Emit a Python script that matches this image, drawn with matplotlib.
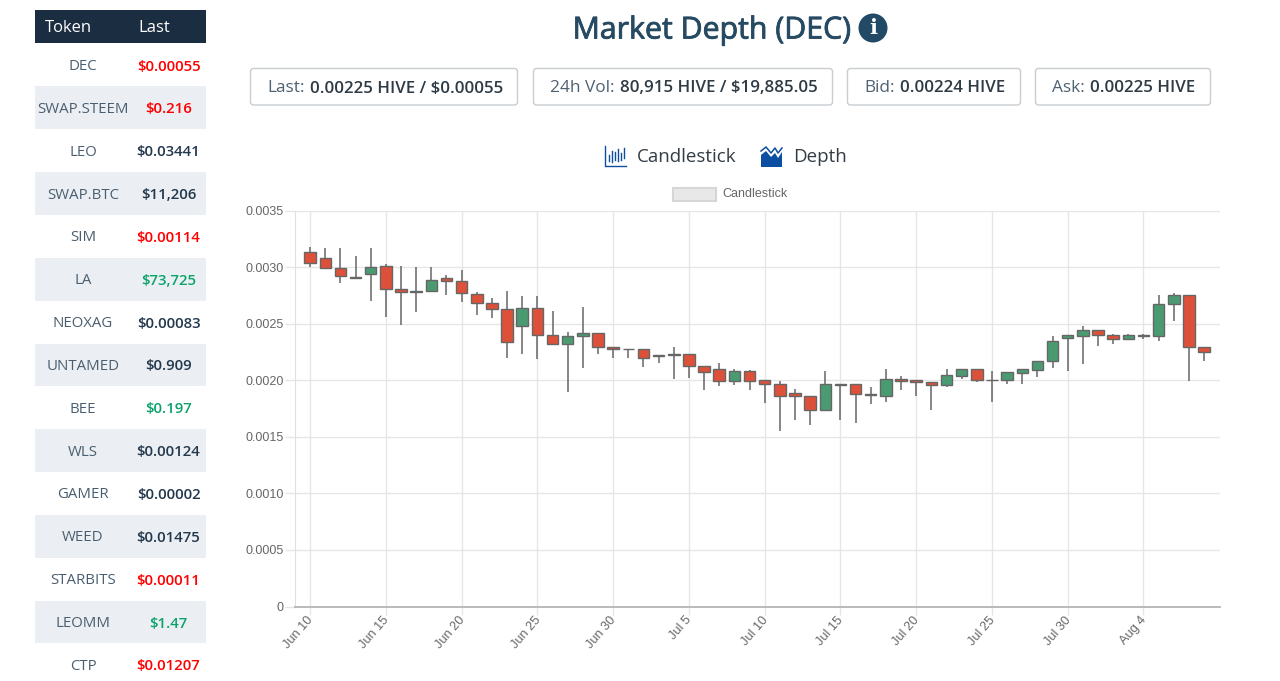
import numpy as np
import matplotlib
matplotlib.use('Agg')
import matplotlib.pyplot as plt
import matplotlib.patheffects as pe
from matplotlib.patches import Rectangle, FancyBboxPatch, Circle, Polygon
from matplotlib.transforms import ScaledTranslation

# candle data, Jun 10 .. Aug 8, one per day
highs = [0.00318, 0.00317, 0.00317, 0.00310, 0.00317, 0.00303, 0.00301, 0.00300, 0.00300, 0.00293,
         0.00297, 0.00278, 0.00273, 0.00279, 0.00274, 0.00274, 0.00261, 0.00243, 0.00265, 0.00242,
         0.00229, 0.00228, 0.00228, 0.00222, 0.00229, 0.00223, 0.00213, 0.00215, 0.00210, 0.00209,
         0.00200, 0.00199, 0.00192, 0.00186, 0.00208, 0.00197, 0.00197, 0.00194, 0.00210, 0.00204,
         0.00200, 0.00198, 0.00210, 0.00210, 0.00210, 0.00208, 0.00207, 0.00210, 0.00217, 0.00239,
         0.00240, 0.00248, 0.00244, 0.00241, 0.00241, 0.00241, 0.00275, 0.00277, 0.00275, 0.00229]
lows = [0.00300, 0.00299, 0.00286, 0.00290, 0.00270, 0.00256, 0.00249, 0.00260, 0.00278, 0.00275,
        0.00269, 0.00258, 0.00255, 0.00220, 0.00223, 0.00219, 0.00232, 0.00190, 0.00211, 0.00223,
        0.00220, 0.00220, 0.00212, 0.00215, 0.00201, 0.00202, 0.00191, 0.00195, 0.00196, 0.00191,
        0.00180, 0.00155, 0.00165, 0.00160, 0.00173, 0.00165, 0.00162, 0.00179, 0.00181, 0.00191,
        0.00186, 0.00174, 0.00194, 0.00201, 0.00198, 0.00181, 0.00197, 0.00197, 0.00203, 0.00211,
        0.00208, 0.00214, 0.00230, 0.00232, 0.00236, 0.00236, 0.00235, 0.00252, 0.00199, 0.00217]
opens = [0.00313, 0.00308, 0.00299, 0.00291, 0.00294, 0.00301, 0.00281, 0.00279, 0.00279, 0.00290,
         0.00288, 0.00276, 0.00268, 0.00263, 0.00248, 0.00264, 0.00240, 0.00232, 0.00239, 0.00242,
         0.00229, 0.00228, 0.00228, 0.00222, 0.00223, 0.00223, 0.00213, 0.00210, 0.00199, 0.00208,
         0.00200, 0.00197, 0.00189, 0.00186, 0.00174, 0.00197, 0.00197, 0.00188, 0.00186, 0.00201,
         0.00200, 0.00198, 0.00196, 0.00204, 0.00210, 0.00200, 0.00200, 0.00206, 0.00209, 0.00217,
         0.00237, 0.00239, 0.00244, 0.00240, 0.00236, 0.00239, 0.00239, 0.00267, 0.00275, 0.00229]
closes = [0.00304, 0.00299, 0.00292, 0.00290, 0.00300, 0.00281, 0.00278, 0.00278, 0.00289, 0.00288,
          0.00277, 0.00268, 0.00263, 0.00234, 0.00264, 0.00240, 0.00232, 0.00239, 0.00242, 0.00229,
          0.00228, 0.00228, 0.00220, 0.00221, 0.00222, 0.00213, 0.00207, 0.00199, 0.00208, 0.00199,
          0.00197, 0.00186, 0.00186, 0.00174, 0.00197, 0.00196, 0.00188, 0.00187, 0.00201, 0.00199,
          0.00198, 0.00196, 0.00205, 0.00210, 0.00200, 0.00200, 0.00207, 0.00210, 0.00217, 0.00235,
          0.00240, 0.00244, 0.00240, 0.00236, 0.00240, 0.00240, 0.00267, 0.00275, 0.00229, 0.00225]

date_ticks = [0, 5, 10, 15, 20, 25, 30, 35, 40, 45, 50, 55]
date_labels = ['Jun 10', 'Jun 15', 'Jun 20', 'Jun 25', 'Jun 30', 'Jul 5', 'Jul 10', 'Jul 15',
               'Jul 20', 'Jul 25', 'Jul 30', 'Aug 4']
y_ticks = [0, 0.0005, 0.0010, 0.0015, 0.0020, 0.0025, 0.0030, 0.0035]
y_labels = ['0', '0.0005', '0.0010', '0.0015', '0.0020', '0.0025', '0.0030', '0.0035']

tokens = ['DEC', 'SWAP.STEEM', 'LEO', 'SWAP.BTC', 'SIM', 'LA', 'NEOXAG', 'UNTAMED', 'BEE', 'WLS',
          'GAMER', 'WEED', 'STARBITS', 'LEOMM', 'CTP']
lasts = ['$0.00055', '$0.216', '$0.03441', '$11,206', '$0.00114', '$73,725', '$0.00083', '$0.909',
         '$0.197', '$0.00124', '$0.00002', '$0.01475', '$0.00011', '$1.47', '$0.01207']
moves = ['r', 'r', 'n', 'n', 'r', 'g', 'n', 'n', 'g', 'n', 'n', 'n', 'r', 'g', 'r']

stat_names = ['Last: ', '24h Vol: ', 'Bid: ', 'Ask: ']
stat_values = ['0.00225 HIVE / $0.00055', '80,915 HIVE / $19,885.05', '0.00224 HIVE', '0.00225 HIVE']

W, H = 1280, 681
plt.rcParams['font.family'] = ['Open Sans', 'DejaVu Sans']
fig = plt.figure(figsize=(W / 100, H / 100), dpi=100, facecolor='white')

# chart
ax = fig.add_axes([294.5 / W, 1 - 606.5 / H, (1220 - 294.5) / W, (606.5 - 210.5) / H])
ax.set_xlim(-1.03, 60.05)
ax.set_ylim(0, 0.0035)
ax.set_axisbelow(True)
ax.grid(True, color='#e6e6e6', lw=1)
for s in ['top', 'right']:
    ax.spines[s].set_visible(False)
ax.spines['left'].set_color('#e0e0e0')
ax.spines['bottom'].set_color('#b4b4b4')
ax.spines['bottom'].set_linewidth(1.3)
ax.set_yticks(y_ticks)
ax.set_yticklabels(y_labels, family=['Liberation Sans'], fontsize=9, color='#666666')
ax.set_xticks(date_ticks)
ax.set_xticklabels(date_labels, family=['Liberation Sans'], fontsize=9.2, color='#666666',
                   rotation=49, ha='right', va='top', rotation_mode='anchor')
ax.tick_params(axis='y', length=7.2, width=1, color='#e6e6e6', pad=0.6)
ax.tick_params(axis='x', length=6, width=1, color='#e6e6e6', pad=3)
shift = ScaledTranslation(-3.5 / 100, 5 / 100, fig.dpi_scale_trans)
for lab in ax.get_xticklabels():
    lab.set_transform(lab.get_transform() + shift)

days = np.arange(len(opens))
for d, hi, lo, o, c in zip(days, highs, lows, opens, closes):
    ax.plot([d, d], [lo, hi], color='#666666', lw=1.1, solid_capstyle='butt', zorder=2)
    col = '#4b9b72' if c >= o else '#dd5039'
    ax.add_patch(Rectangle((d - 0.38, min(o, c)), 0.76, abs(o - c), facecolor=col,
                           edgecolor='#666666', lw=1, zorder=3))

# page furniture, pixel coordinates
page = fig.add_axes([0, 0, 1, 1], zorder=5)
page.set_xlim(0, W)
page.set_ylim(H, 0)
page.axis('off')
page.patch.set_alpha(0)

page.add_patch(Rectangle((35, 10), 171, 33, facecolor='#1b2d40', edgecolor='none'))
page.text(45, 28.5, 'Token', color='white', fontsize=12, va='center')
page.text(138.5, 28.5, 'Last', color='white', fontsize=12, va='center')
last_cols = {'r': '#ff0000', 'g': '#0ca36b', 'n': '#23384d'}
for i, (tok, val, mv) in enumerate(zip(tokens, lasts, moves)):
    yc = 65 + 42.85 * i
    if i % 2 == 1:
        page.add_patch(Rectangle((35, yc - 21.4), 171, 42.8, facecolor='#ebeff3', edgecolor='none'))
    page.text(83, yc + 1.5, tok, color='#4a5e70', fontsize=10.8, ha='center', va='center')
    page.text(168.5, yc + 1.5, val, color=last_cols[mv], fontsize=10.8, weight=600, ha='center', va='center')

page.text(712, 31, 'Market Depth (DEC)', color='#274a63', fontsize=21.8, ha='center', va='center',
          path_effects=[pe.withStroke(linewidth=0.6, foreground='#274a63')])
page.add_patch(Circle((873, 28), 14.5, facecolor='#224a66', edgecolor='none'))
page.text(873, 28.5, 'i', color='white', fontsize=15, weight='bold', family=['DejaVu Serif'],
          ha='center', va='center')

boxes = [(250, 518), (533, 833), (847, 1021), (1035, 1211)]
renderer = fig.canvas.get_renderer()
for (x0, x1), name, val in zip(boxes, stat_names, stat_values):
    page.add_patch(FancyBboxPatch((x0 + 3.5, 71.5), x1 - x0 - 7, 30.5, boxstyle='round,pad=3',
                                  facecolor='white', edgecolor='#c9cdd1', lw=1))
    t1 = page.text(x0 + 17.5, 92.5, name.strip(), color='#4f6272', fontsize=12.4, va='baseline')
    w1 = t1.get_window_extent(renderer).width + 5
    page.text(x0 + 17.5 + w1, 92.5, val, color='#2e3a44', fontsize=12.2, weight=600, va='baseline')

# candlestick and depth icons
icon = '#0b4ea2'
page.plot([605, 605, 626], [146, 166, 166], color=icon, lw=1)
for xi, y0, y1 in [(609, 155, 161), (612, 151, 162), (615, 152, 160), (618, 149, 161), (621, 153, 160), (624, 148, 158)]:
    page.plot([xi, xi], [y0, y1], color=icon, lw=1)
page.text(637, 156.5, 'Candlestick', color='#333c44', fontsize=13.5, va='center')
page.add_patch(Polygon([(761, 167), (761, 155), (766, 151), (771, 157), (775, 153), (778, 158), (782, 152), (782, 167)],
                       facecolor=icon, edgecolor='none'))
page.plot([761, 766, 771, 775, 778, 782], [151, 147, 153, 148, 153, 148], color=icon, lw=1.1)
page.text(793, 156.5, 'Depth', color='#333c44', fontsize=13.5, va='center')

# chart legend
page.add_patch(Rectangle((672.5, 187.5), 43, 13.5, facecolor='#e8e8e8', edgecolor='#d6d6d6', lw=1.5))
page.text(722, 194, 'Candlestick', color='#666666', fontsize=9, family=['Liberation Sans'], va='center')

fig.savefig('out.png', dpi=100)
